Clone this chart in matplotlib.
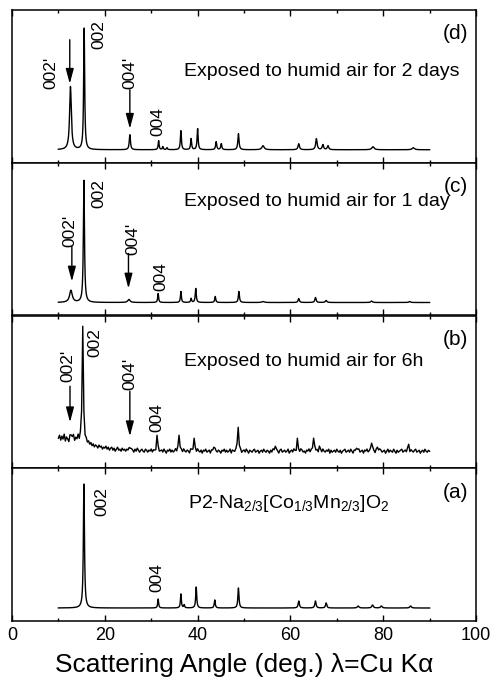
import numpy as np
import matplotlib.pyplot as plt

plt.rcParams['font.family'] = ['Liberation Sans', 'DejaVu Sans']
plt.rcParams['mathtext.default'] = 'regular'

# XRD peaks read per pattern: 2theta (deg), intensity (a.u.), half width (deg)
pos_a = [15.5, 31.5, 36.4, 37.1, 39.7, 43.7, 48.8, 61.8, 65.4, 67.7, 74.6, 77.7, 79.6, 85.9]
hgt_a = [124, 9, 14, 3, 21, 8, 20, 7, 7, 5, 2, 3, 2, 2]
wid_a = [0.14, 0.12, 0.12, 0.12, 0.13, 0.13, 0.14, 0.16, 0.16, 0.16, 0.2, 0.2, 0.2, 0.2]

pos_b = [12.75, 15.25, 25.5, 31.25, 36.0, 39.25, 43.5, 48.75, 56.75, 61.5, 65.0, 66.25,
         74.25, 77.5, 78.75, 85.5]
hgt_b = [5, 115, 3, 15, 18, 13, 5, 25, 6, 12, 14, 5, 4, 9, 5, 7]

# measured baseline of the 6 h scan, every 0.25 deg from 10 to 90
base_b = [
    13, 16, 11, 15, 12, 17, 10, 14, 12, 9, 15, 11, 13, 16, 10, 13, 11, 15, 9, 12,
    13, 10, 12, 8, 10, 7, 9, 6, 8, 5, 7, 4, 6, 5, 3, 6, 4, 5, 2, 4,
    3, 5, 2, 4, 1, 3, 4, 1, 3, 0, 2, 4, 1, 2, 0, 3, 1, 2, 0, 2,
    1, 3, 0, 2, 1, -1, 2, 0, 3, 1, -1, 1, 2, 0, -1, 2, 1, -1, 1, 0,
    2, -1, 1, 0, -2, 1, 2, -1, 0, 1, -1, 2, 0, -2, 1, 0, 2, -1, 1, -1,
    0, 2, -1, 1, -2, 0, 1, -1, 2, 0, -1, 1, 0, -2, 2, 1, -1, 0, 1, -1,
    2, 0, -1, 1, -2, 1, 0, 2, -1, 0, 1, -2, 1, 0, -1, 2, 0, -1, 1, 0,
    -2, 1, 0, 2, -1, 1, -1, 0, 2, -2, 1, 0, -1, 1, 2, -1, 0, 1, -2, 0,
    1, -1, 2, 0, -2, 1, 0, -1, 1, 2, -1, 0, 1, -2, 0, 1, -1, 2, 0, -1,
    1, 0, -2, 1, -1, 2, 0, -1, 1, 0, -2, 1, 2, -1, 0, 1, -1, 0, 2, -2,
    0, 1, -1, 2, 0, -2, 1, 0, -1, 2, 1, -1, 0, -2, 1, 0, 2, -1, 1, 0,
    -1, 2, 0, 1, -2, 0, 1, -1, 2, 0, -1, 1, 0, 2, -2, 1, -1, 0, 1, -1,
    2, 0, -1, 1, -2, 0, 1, 2, -1, 0, 1, -1, 2, 0, -2, 1, 0, -1, 1, 2,
    -1, 0, 1, -2, 1, 0, 2, -1, 0, 1, -1, 2, 0, -2, 1, -1, 0, 2, 1, -1,
    0, 1, -2, 0, 2, -1, 1, 0, -1, 2, 0, -2, 1, -1, 0, 1, 2, -1, 0, 1,
    -1, 2, 0, -2, 1, 0, -1, 1, 2, -1, 0, 1, -2, 0, 1, -1, 2, 0, -1, 1,
    0]

pos_c = [12.7, 15.5, 25.2, 31.5, 36.4, 38.6, 39.6, 43.8, 48.9, 54.1, 61.8, 65.4, 67.7, 77.5, 85.7]
hgt_c = [12, 122, 3, 9, 11, 4, 14, 6, 11, 1, 4, 5, 2, 1.5, 1]
wid_c = [0.35, 0.14, 0.3, 0.12, 0.12, 0.12, 0.13, 0.13, 0.14, 0.3, 0.16, 0.16, 0.2, 0.2, 0.2]

pos_d = [12.6, 15.55, 25.4, 31.6, 32.5, 33.4, 36.4, 38.6, 40.0, 44.0, 45.1, 48.8, 54.1,
         61.8, 65.6, 67.0, 68.1, 77.8, 86.5]
hgt_d = [63, 122, 15, 9, 3, 2, 19, 11, 21, 8, 6, 16, 4, 6, 11, 5, 4, 3, 2]
wid_d = [0.22, 0.13, 0.15, 0.12, 0.12, 0.12, 0.13, 0.13, 0.13, 0.14, 0.14, 0.15, 0.3,
         0.18, 0.18, 0.18, 0.18, 0.3, 0.3]

baseline = 13.0
baseline_b = 17.0

# reflection labels: text, text x, text y, arrow (x, y_start, y_tip) or None
labels_d = [("002'", 8.35, 90, (12.45, 123, 79)), ("002", 18.8, 128, None),
            ("004'", 25.4, 90, (25.4, 73, 34)), ("004", 31.5, 41, None)]
labels_c = [("002'", 12.5, 85, (12.9, 69, 34)), ("002", 18.8, 122, None),
            ("004'", 26.0, 77, (25.1, 62, 27)), ("004", 32.1, 39, None)]
labels_b = [("002'", 12.1, 102, (12.5, 82, 46)), ("002", 17.9, 126, None),
            ("004'", 25.3, 94, (25.4, 77, 32)), ("004", 31.3, 51, None)]
labels_a = [("002", 19.4, 119, None), ("004", 31.3, 43, None)]


def profile(x, pos, hgt, wid, base):
    y = np.full_like(x, base, dtype=float)
    for p, h, w in zip(pos, hgt, wid):
        y += h / (1.0 + ((x - p) / w) ** 2)
    return y


x_fine = np.arange(10, 90.001, 0.02)
x_b = np.arange(10, 90.001, 0.25)

y_a = profile(x_fine, pos_a, hgt_a, wid_a, baseline)
y_c = profile(x_fine, pos_c, hgt_c, wid_c, baseline)
y_d = profile(x_fine, pos_d, hgt_d, wid_d, baseline)
y_b = profile(x_b, pos_b, hgt_b, [0.14] * len(pos_b), 0.0) + baseline_b + np.array(base_b)

panels = [
    (x_fine, y_d, labels_d, "(d)", "Exposed to humid air for 2 days", 37.1, 91),
    (x_fine, y_c, labels_c, "(c)", "Exposed to humid air for 1 day", 37.0, 114),
    (x_b, y_b, labels_b, "(b)", "Exposed to humid air for 6h", 37.1, 107),
    (x_fine, y_a, labels_a, "(a)", "P2-Na$_{2/3}$[Co$_{1/3}$Mn$_{2/3}$]O$_2$", 38.0, 118),
]

fig = plt.figure(figsize=(4.92, 6.79), dpi=100)
left, width = 12 / 492, 464 / 492
h = 152.75 / 679
bottom0 = 1 - 621 / 679

axes = []
for i, (x, y, labs, tag, title, tx, ty) in enumerate(panels):
    ax = fig.add_axes([left, bottom0 + (3 - i) * h, width, h])
    axes.append(ax)
    ax.plot(x, y, color='black', lw=1.0)
    ax.set_xlim(0, 100)
    ax.set_ylim(0, 152.75)
    ax.set_yticks([])
    ax.set_xticks(np.arange(0, 101, 20))
    ax.set_xticks(np.arange(10, 100, 20), minor=True)
    ax.tick_params(axis='x', which='both', direction='in', top=True, bottom=True, width=1)
    ax.tick_params(axis='x', which='major', length=4)
    ax.tick_params(axis='x', which='minor', length=2.5)
    for s in ax.spines.values():
        s.set_linewidth(1.1)
    if i < 3:
        ax.set_xticklabels([])
    else:
        ax.tick_params(axis='x', labelsize=13, pad=4.5)

    ax.text(98.3, 129, tag, ha='right', va='center', fontsize=15)
    ax.text(tx, ty, title, ha='left', va='center', fontsize=14)

    for txt, lx, ly, arr in labs:
        ax.text(lx, ly, txt, rotation=90, ha='center', va='center', fontsize=12.5)
        if arr is not None:
            ax_x, y0, y1 = arr
            ax.annotate('', xy=(ax_x, y1), xytext=(ax_x, y0),
                        arrowprops=dict(arrowstyle='-|>,head_length=0.6,head_width=0.16',
                                        color='black', lw=1, mutation_scale=15,
                                        shrinkA=0, shrinkB=0))

axes[-1].set_xlabel('Scattering Angle (deg.) λ=Cu Kα', fontsize=19, labelpad=6)

fig.savefig('out.png', dpi=100)
